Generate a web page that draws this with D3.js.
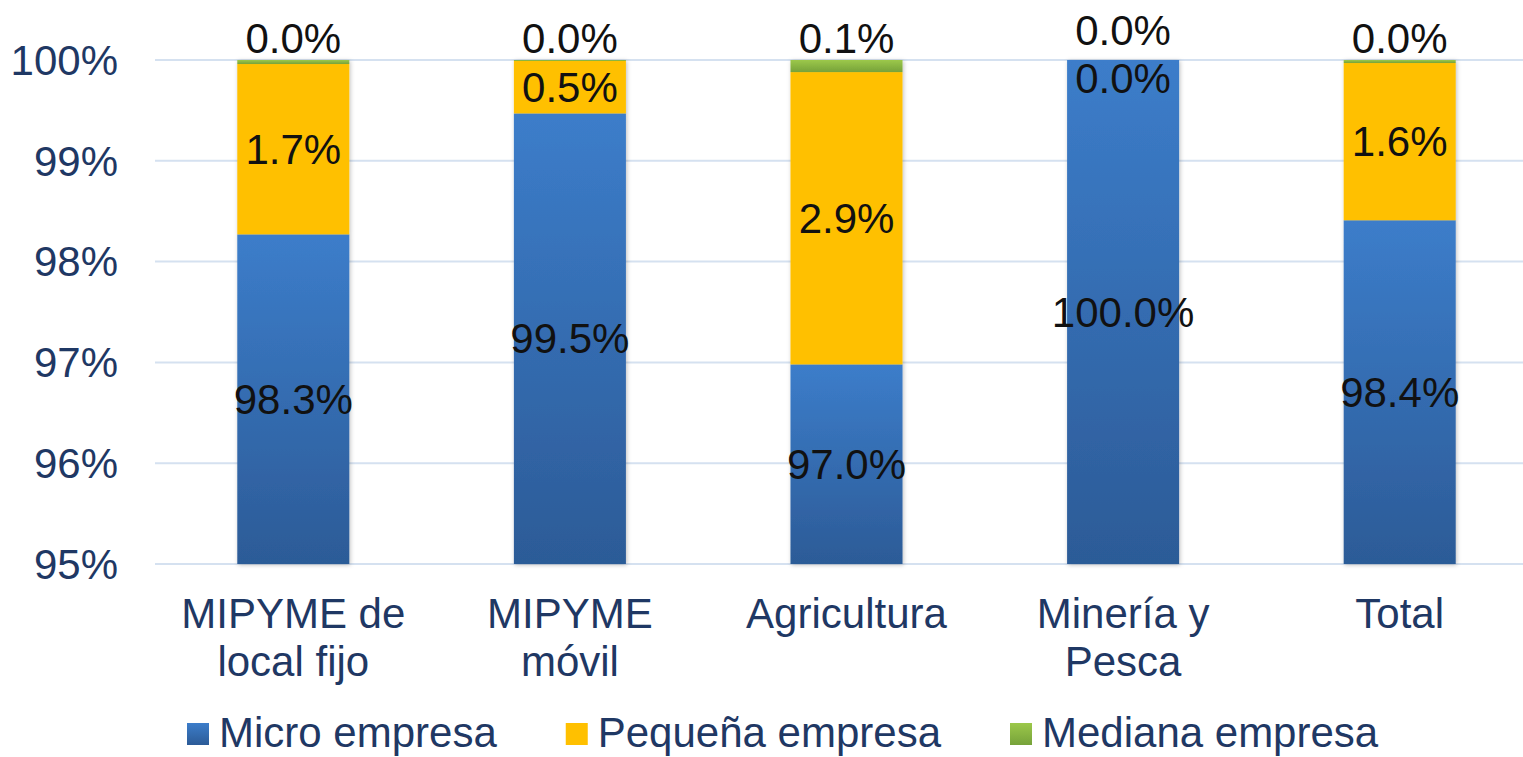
<!DOCTYPE html>
<html>
  <head>
    <meta charset="utf-8">
    <title>MIPYME por tamaño</title>
    <script src="https://d3js.org/d3.v7.min.js"></script>
    <style>
      body { margin: 0; background: #fff; }
      text { font-family: "Liberation Sans", Arial, sans-serif; }
    </style>
  </head>
  <body>
    <script>
      // data (percent of firms)
      var categories = [["MIPYME de", "local fijo"], ["MIPYME", "móvil"], ["Agricultura"], ["Minería y", "Pesca"], ["Total"]];
      var seriesNames = ["Micro empresa", "Pequeña empresa", "Mediana empresa"];
      var micro = [98.27, 99.47, 96.98, 100.0, 98.41];
      var pequena = [1.69, 0.52, 2.90, 0.0, 1.56];
      var mediana = [0.04, 0.01, 0.12, 0.0, 0.03];
      var yTicks = [95, 96, 97, 98, 99, 100];

      var width = 1523, height = 757;
      var plotLeft = 155, plotRight = 1538, plotTop = 60, plotBottom = 564;
      var fontSize = 42;
      var navy = "#1f3864";

      var svg = d3.select("body").append("svg").attr("width", width).attr("height", height);

      var defs = svg.append("defs");
      function grad(id, c1, c2) {
        var g = defs.append("linearGradient").attr("id", id).attr("x1", 0).attr("y1", 0).attr("x2", 0).attr("y2", 1);
        g.append("stop").attr("offset", "0%").attr("stop-color", c1);
        g.append("stop").attr("offset", "100%").attr("stop-color", c2);
      }
      grad("gMicro", "#3c7dca", "#2c5b97");
      grad("gPeq", "#ffc000", "#ffc000");
      grad("gMed", "#9cc84a", "#76a23a");
      var fills = ["url(#gMicro)", "url(#gPeq)", "url(#gMed)"];

      var shadow = defs.append("filter").attr("id", "shadow").attr("x", "-10%").attr("y", "-5%").attr("width", "130%").attr("height", "115%");
      shadow.append("feDropShadow").attr("dx", 1).attr("dy", 1).attr("stdDeviation", 2).attr("flood-color", "#000").attr("flood-opacity", 0.25);

      var rows = categories.map(function(c, i) {
        return { i: i, micro: micro[i], pequena: pequena[i], mediana: mediana[i] };
      });
      var stack = d3.stack().keys(["micro", "pequena", "mediana"]);
      var layers = stack(rows);

      var x = d3.scaleBand().domain(d3.range(categories.length)).range([plotLeft, plotRight])
        .paddingInner(0.595).paddingOuter(0.2975);
      var y = d3.scaleLinear().domain([95, 100]).range([plotBottom, plotTop]);

      // gridlines
      svg.append("g").selectAll("line").data(yTicks).enter().append("line")
        .attr("x1", plotLeft).attr("x2", width)
        .attr("y1", function(d) { return y(d); }).attr("y2", function(d) { return y(d); })
        .attr("stroke", "#d5e1f0").attr("stroke-width", 2);

      // y axis labels
      svg.append("g").selectAll("text").data(yTicks).enter().append("text")
        .attr("x", 118).attr("y", function(d) { return y(d); })
        .attr("dy", "0.35em").attr("text-anchor", "end")
        .attr("font-size", fontSize).attr("fill", navy)
        .text(function(d) { return d + "%"; });

      // bars
      var bars = svg.append("g").attr("filter", "url(#shadow)");
      layers.forEach(function(layer, k) {
        bars.selectAll(null).data(layer).enter().append("rect")
          .attr("x", function(d) { return x(d.data.i); })
          .attr("width", x.bandwidth())
          .attr("y", function(d) { return y(Math.min(d[1], 100)); })
          .attr("height", function(d) { return Math.max(0, y(Math.max(d[0], 95)) - y(Math.min(d[1], 100))); })
          .attr("fill", fills[k]);
      });

      // data labels
      var labels = svg.append("g").attr("font-size", fontSize).attr("fill", "#111").attr("text-anchor", "middle");
      layers.forEach(function(layer, k) {
        labels.selectAll(null).data(layer).enter().append("text")
          .attr("x", function(d) { return x(d.data.i) + x.bandwidth() / 2; })
          .attr("y", function(d) {
            var y0 = y(Math.max(d[0], 95)), y1 = y(Math.min(d[1], 100));
            if (k === 2) return y1 - (d.data.pequena === 0 ? 30 : 22);
            if (k === 1) return Math.max((y0 + y1) / 2, y1 + 18);
            return (y0 + y1) / 2;
          })
          .attr("dy", "0.35em")
          .text(function(d) { return (d[1] - d[0]).toFixed(1) + "%"; });
      });

      // category labels
      var cats = svg.append("g").attr("font-size", fontSize).attr("fill", navy).attr("text-anchor", "middle");
      categories.forEach(function(lines, i) {
        var cx = x(i) + x.bandwidth() / 2;
        var t = cats.append("text");
        lines.forEach(function(s, j) {
          t.append("tspan").attr("x", cx).attr("y", 628 + j * 48).text(s);
        });
      });

      // legend
      var legend = svg.append("g");
      var lx = 187;
      seriesNames.forEach(function(name, k) {
        legend.append("rect").attr("x", lx).attr("y", 723).attr("width", 22).attr("height", 22).attr("fill", fills[k]);
        var t = legend.append("text").attr("x", lx + 32).attr("y", 747)
          .attr("font-size", fontSize).attr("fill", navy).text(name);
        lx += 32 + t.node().getComputedTextLength() + 69;
      });
    </script>
  </body>
</html>
